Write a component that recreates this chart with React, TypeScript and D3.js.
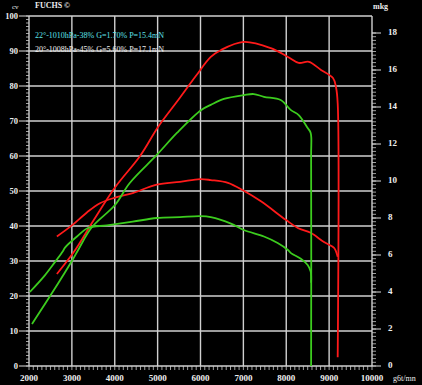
import React, { useEffect } from 'react';
import * as d3 from 'd3';

// rpm / value pairs
const redPowerRpm = [2650, 3070, 3500, 4005, 4590, 5010, 5480, 5900, 6240, 6480, 7010, 7640, 8040, 8290, 8530, 8810, 9090, 9160, 9200, 9200];
const redPower = [26.3, 33, 41.5, 51, 60, 68.3, 76, 83, 88.3, 90.3, 92.6, 90.8, 88.3, 86.6, 86.9, 84.6, 82.3, 79.7, 75, 2.5];

const greenPowerRpm = [2070, 2540, 3000, 3140, 3470, 4005, 4350, 4980, 5450, 6010, 6240, 6545, 7010, 7245, 7480, 7870, 8110, 8290, 8500, 8570, 8580, 8580];
const greenPower = [12, 20.9, 30, 33, 39.7, 46, 52.3, 60.3, 66.6, 73.1, 74.6, 76.3, 77.4, 77.7, 76.9, 76, 73.1, 71.7, 68, 66.6, 60, 0];

const redTorqueRpm = [2650, 3000, 3350, 3655, 4005, 4420, 4980, 5520, 5990, 6240, 6640, 6990, 7410, 7990, 8270, 8570, 8880, 9110, 9160, 9200];
const redTorque = [7.0, 7.6, 8.3, 8.8, 9.1, 9.35, 9.8, 9.95, 10.1, 10.05, 9.9, 9.5, 8.9, 7.9, 7.46, 7.2, 6.7, 6.4, 6.2, 5.9];

const greenTorqueRpm = [2020, 2370, 2600, 2790, 2840, 3120, 3375, 3820, 4420, 4980, 5520, 5990, 6240, 6710, 7010, 7480, 7800, 8040, 8110, 8340, 8500, 8570, 8580];
const greenTorque = [4.0, 4.9, 5.6, 6.2, 6.4, 7.0, 7.46, 7.6, 7.8, 8.0, 8.05, 8.1, 8.05, 7.7, 7.35, 7.0, 6.65, 6.27, 6.1, 5.8, 5.46, 5.1, 4.5];

const xTicks = [2000, 3000, 4000, 5000, 6000, 7000, 8000, 9000, 10000];
const cvTicks = [0, 10, 20, 30, 40, 50, 60, 70, 80, 90, 100];
const mkgTicks = [0, 2, 4, 6, 8, 10, 12, 14, 16, 18];

const legend1 = '22°-1010hPa-38% G=1.70% P=15.4mN';
const legend2 = '20°-1008hPa-45% G=5.60% P=17.1mN';

const W = 422;
const H = 385;
const font = '"Liberation Serif", "DejaVu Serif", serif';

export default function App() {
  useEffect(() => {
    document.body.style.margin = '0';
    document.body.style.background = '#000';
  }, []);

  const x = d3.scaleLinear().domain([2000, 10000]).range([29, 372]);
  const yCv = d3.scaleLinear().domain([0, 100]).range([366, 16]);
  const yMkg = d3.scaleLinear().domain([0, 18]).range([366, 33]);

  const line = (rpm: number[], vals: number[], y: d3.ScaleLinear<number, number>) =>
    d3
      .line<number>()
      .x((_, i) => x(rpm[i]))
      .y((v) => y(v))
      .curve(d3.curveCatmullRom.alpha(0.5))(vals) || '';

  const cvMinor = d3.range(0, 101, 1);
  const mkgMinor = d3.range(0, 18.01, 0.2);
  const xMinor = d3.range(2000, 10001, 100);

  const grid = '#d0d0d0';

  return (
    <svg width={W} height={H} style={{ display: 'block', background: '#000' }}>
      <rect width={W} height={H} fill="#000" />

      {/* grid */}
      {cvTicks.map((t) => (
        <line key={'h' + t} x1={x(2000)} x2={x(10000)} y1={yCv(t)} y2={yCv(t)} stroke={grid} strokeWidth={1.4} />
      ))}
      {xTicks.map((t) => (
        <line key={'v' + t} x1={x(t)} x2={x(t)} y1={yCv(0)} y2={yCv(100)} stroke={grid} strokeWidth={1.4} />
      ))}

      {/* left axis */}
      {cvMinor.map((t) => (
        <line key={'lm' + t} x1={x(2000) - 3} x2={x(2000)} y1={yCv(t)} y2={yCv(t)} stroke="#ccc" strokeWidth={0.8} />
      ))}
      {cvTicks.map((t) => (
        <g key={'lt' + t}>
          <line x1={x(2000) - 10} x2={x(2000)} y1={yCv(t)} y2={yCv(t)} stroke="#ddd" strokeWidth={1} />
          <text x={x(2000) - 11} y={yCv(t) + 3} textAnchor="end" fill="#eee" fontSize={8.5} fontFamily={font} fontWeight="bold">
            {t}
          </text>
        </g>
      ))}

      {/* right axis */}
      {mkgMinor.map((t, i) => (
        <line key={'rm' + i} x1={x(10000)} x2={x(10000) + 4} y1={yMkg(t)} y2={yMkg(t)} stroke="#ccc" strokeWidth={0.8} />
      ))}
      {mkgTicks.map((t) => (
        <g key={'rt' + t}>
          <line x1={x(10000)} x2={x(10000) + 9} y1={yMkg(t)} y2={yMkg(t)} stroke="#ddd" strokeWidth={1} />
          <text x={x(10000) + 16} y={yMkg(t) + 2} textAnchor="start" fill="#eee" fontSize={9} fontFamily={font} fontWeight="bold">
            {t}
          </text>
        </g>
      ))}

      {/* bottom axis */}
      {xMinor.map((t) => (
        <line key={'bm' + t} x1={x(t)} x2={x(t)} y1={yCv(0)} y2={yCv(0) + 4} stroke="#ccc" strokeWidth={0.8} />
      ))}
      {xTicks.map((t) => (
        <text key={'bt' + t} x={x(t)} y={381} textAnchor="middle" fill="#eee" fontSize={9} fontFamily={font} fontWeight="bold">
          {t}
        </text>
      ))}

      {/* curves */}
      <path d={line(redPowerRpm, redPower, yCv)} fill="none" stroke="#ff1a1a" strokeWidth={1.8} />
      <path d={line(redTorqueRpm, redTorque, yMkg)} fill="none" stroke="#ff1a1a" strokeWidth={1.8} />
      <path d={line(greenPowerRpm, greenPower, yCv)} fill="none" stroke="#3ccc1e" strokeWidth={1.8} />
      <path d={line(greenTorqueRpm, greenTorque, yMkg)} fill="none" stroke="#3ccc1e" strokeWidth={1.8} />

      {/* labels */}
      <text x={12} y={9} fill="#eee" fontSize={7} fontFamily={font}>cv</text>
      <text x={35} y={8} fill="#eee" fontSize={8} fontFamily={font} fontWeight="bold">FUCHS ©</text>
      <text x={373} y={9} fill="#eee" fontSize={8} fontFamily={font} fontWeight="bold">mkg</text>
      <text x={393} y={381} fill="#eee" fontSize={8} fontFamily={font}>g6t/mn</text>
      <text x={35} y={38} fill="#5fe0e8" fontSize={8} fontFamily={font}>{legend1}</text>
      <text x={35} y={52} fill="#eee" fontSize={8} fontFamily={font}>{legend2}</text>
    </svg>
  );
}
